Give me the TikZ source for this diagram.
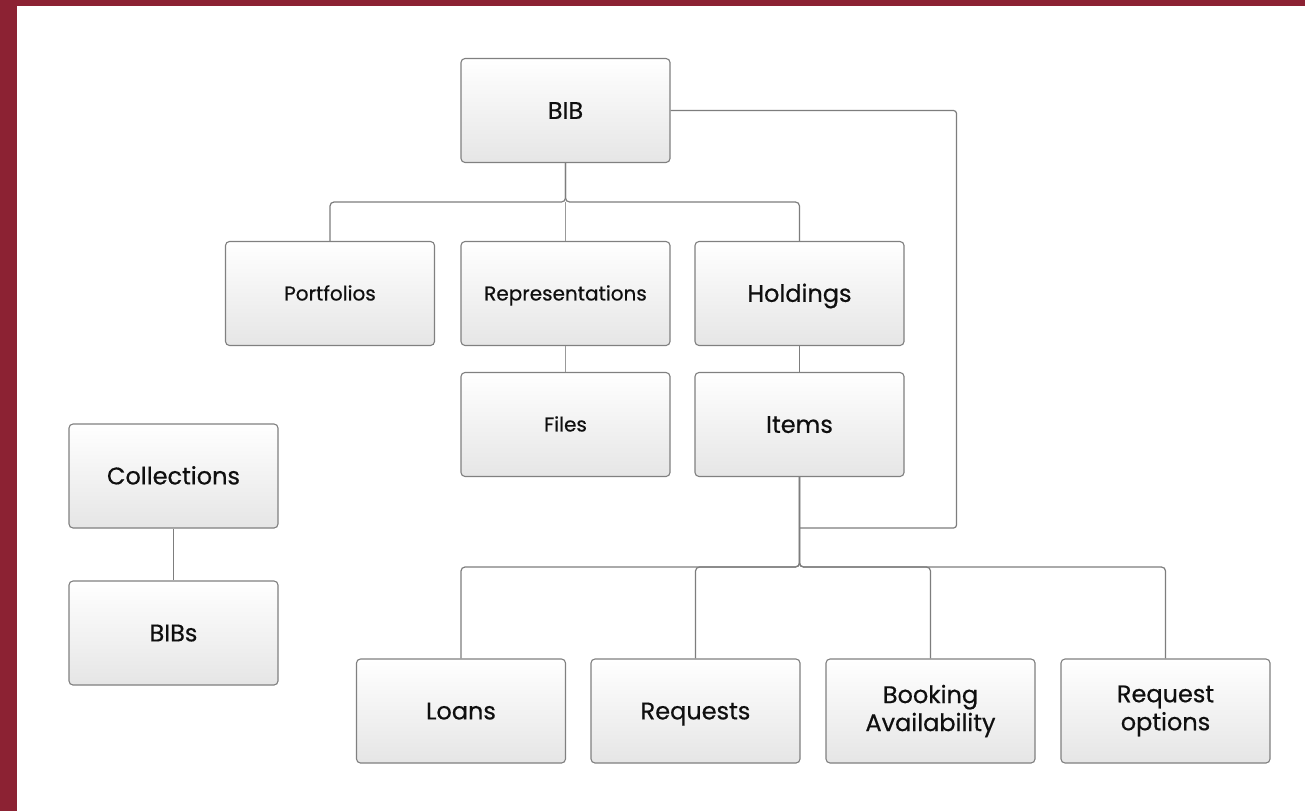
\documentclass[tikz,border=0pt]{standalone}
\usepackage{fontspec}
\setmainfont{Poppins}[FakeBold=0.5]
\newcommand\capc[1]{\vphantom{H}\smash{#1}}
\definecolor{bandred}{RGB}{140,34,51}
\definecolor{boxline}{RGB}{128,128,128}
\definecolor{linegray}{RGB}{125,125,125}
\definecolor{txt}{RGB}{15,15,15}
\tikzset{
  box/.style={rectangle, rounded corners=4pt, draw=boxline, line width=1.1pt,
    top color=white, bottom color=black!10, minimum width=209pt, minimum height=104pt,
    inner sep=0pt, align=center, text=txt, font=\fontsize{24}{28}\selectfont},
  smallbox/.style={box, font=\fontsize{20}{24}\selectfont},
  conn/.style={draw=linegray, line width=1.2pt, rounded corners=4pt},
  thinconn/.style={draw=black!40, line width=0.8pt}
}
\begin{document}
\begin{tikzpicture}[x=1pt,y=-1pt]
\useasboundingbox (0,0) rectangle (1305,811);
\fill[white] (0,0) rectangle (1305,811);
\fill[bandred] (0,0) rectangle (17,811);
\fill[bandred] (0,0) rectangle (1305,6);

\node[box] (bib) at (565.5,110.5) {\capc{BIB}};
\node[smallbox] (port) at (330,293.5) {\capc{Portfolios}};
\node[smallbox] (rep) at (565.5,293.5) {\capc{Representations}};
\node[box] (hold) at (799.5,293.5) {\capc{Holdings}};
\node[smallbox] (files) at (565.5,424.5) {\capc{Files}};
\node[box] (items) at (799.5,424.5) {\capc{Items}};
\node[box] (coll) at (173.5,476) {\capc{Collections}};
\node[box] (bibs) at (173.5,633) {\capc{BIBs}};
\node[box] (loans) at (461,711) {\capc{Loans}};
\node[box] (req) at (695.5,711) {\capc{Requests}};
\node[box] (book) at (930.5,711) {Booking\\Availability};
\node[box] (reqopt) at (1165.5,711) {Request\\options};

\coordinate (j1) at (565.5,202);
\coordinate (j2) at (799.5,567);
\coordinate (j3) at (799.5,528);
\coordinate (c1) at (956.5,528);

\draw[conn] (bib.south) -- (j1) -| (port.north);
\draw[conn] (bib.south) -- (j1) -| (hold.north);
\draw[thinconn] (j1) -- (rep.north);
\draw[thinconn] (rep.south) -- (files.north);
\draw[conn] (hold.south) -- (items.north);
\draw[conn] (items.south) -- (j2) -| (loans.north);
\draw[conn] (items.south) -- (j2) -| (req.north);
\draw[conn] (items.south) -- (j2) -| (book.north);
\draw[conn] (items.south) -- (j2) -| (reqopt.north);
\draw[conn, rounded corners=3pt] (bib.east) -| (c1) -- (j3);
\draw[conn] (coll.south) -- (bibs.north);
\end{tikzpicture}
\end{document}
